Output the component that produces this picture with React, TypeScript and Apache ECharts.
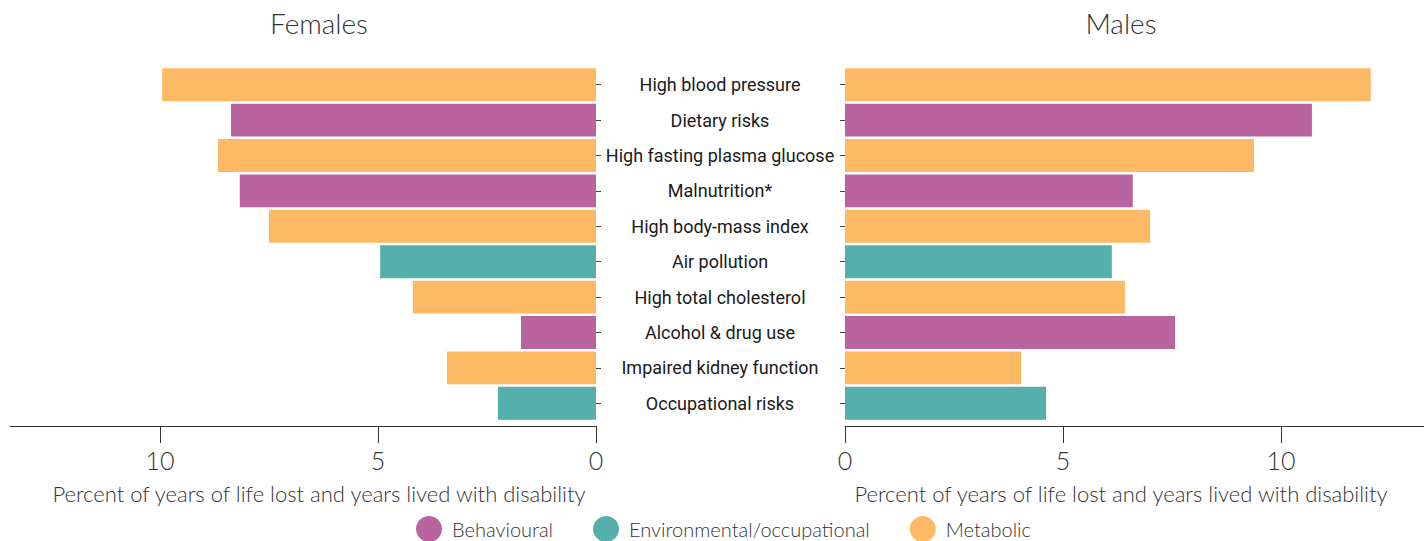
import React, { useEffect, useRef } from "react";
import * as echarts from "echarts";

const categories = [
  "High blood pressure",
  "Dietary risks",
  "High fasting plasma glucose",
  "Malnutrition*",
  "High body-mass index",
  "Air pollution",
  "High total cholesterol",
  "Alcohol & drug use",
  "Impaired kidney function",
  "Occupational risks",
];
const riskType = [
  "Metabolic",
  "Behavioural",
  "Metabolic",
  "Behavioural",
  "Metabolic",
  "Environmental/occupational",
  "Metabolic",
  "Behavioural",
  "Metabolic",
  "Environmental/occupational",
];
const femalesValues = [9.95, 8.37, 8.67, 8.17, 7.5, 4.95, 4.2, 1.72, 3.42, 2.25];
const malesValues = [12.06, 10.71, 9.38, 6.6, 7.0, 6.12, 6.42, 7.57, 4.04, 4.61];
const groups = ["Behavioural", "Environmental/occupational", "Metabolic"];
const groupColors = ["#B9649F", "#55AFAA", "#FDB963"];
const xTicks = [0, 5, 10];

const LABEL_FONT = "Roboto, 'Liberation Sans', sans-serif";
const LIGHT_FONT = "Lato, 'Open Sans', 'Noto Sans', sans-serif";

export default function App() {
  const ref = useRef<HTMLDivElement>(null);
  useEffect(() => {
    if (!ref.current) return;
    const chart = echarts.init(ref.current, undefined, { renderer: "svg" });
    const series: any[] = [];
    groups.forEach((g, gi) => {
      [femalesValues, malesValues].forEach((vals, idx) => {
        series.push({
          name: g,
          type: "bar",
          xAxisIndex: idx,
          yAxisIndex: idx,
          stack: idx === 0 ? "f" : "m",
          barCategoryGap: "7%",
          itemStyle: { color: groupColors[gi] },
          data: vals.map((v, i) => (riskType[i] === g ? v : "-")),
        });
      });
    });
    const xAxisCommon = (inverse: boolean, max: number, gi: number, namePad: number[]) => ({
      type: "value",
      gridIndex: gi,
      min: 0,
      max,
      inverse,
      offset: 5,
      splitLine: { show: false },
      axisLine: { show: true, lineStyle: { color: "#333", width: 1 } },
      axisTick: { show: true, length: 17, lineStyle: { color: "#333" }, customValues: xTicks },
      axisLabel: {
        customValues: xTicks,
        fontSize: 25,
        fontFamily: LIGHT_FONT,
        fontWeight: 300,
        color: "#333",
        margin: 21,
      },
      name: "Percent of years of life lost and years lived with disability",
      nameLocation: "middle",
      nameGap: 56,
      nameTextStyle: {
        fontSize: 22,
        fontFamily: LIGHT_FONT,
        fontWeight: 300,
        color: "#333",
        padding: namePad,
      },
    });
    chart.setOption({
      animation: false,
      title: [
        {
          text: "Females",
          left: 314,
          top: 4,
          textAlign: "center",
          textStyle: { fontSize: 28, fontWeight: 300, fontFamily: LIGHT_FONT, color: "#333" },
        },
        {
          text: "Males",
          left: 1116,
          top: 4,
          textAlign: "center",
          textStyle: { fontSize: 28, fontWeight: 300, fontFamily: LIGHT_FONT, color: "#333" },
        },
      ],
      legend: {
        data: groups,
        top: 511,
        left: 411,
        icon: "circle",
        itemWidth: 26,
        itemHeight: 26,
        itemGap: 40,
        textStyle: { fontSize: 20, fontFamily: LIGHT_FONT, fontWeight: 300, color: "#333", padding: [0, 0, 0, 5] },
      },
      grid: [
        { left: 10, width: 586, top: 67, height: 354 },
        { left: 845, width: 579, top: 67, height: 354 },
      ],
      xAxis: [
        xAxisCommon(true, 13.44, 0, [0, 0, 0, 32]),
        xAxisCommon(false, 13.28, 1, [0, 27, 0, 0]),
      ],
      yAxis: [
        {
          type: "category",
          gridIndex: 0,
          data: categories,
          inverse: true,
          position: "right",
          axisLine: { show: false },
          axisTick: { show: true, alignWithLabel: true, length: 5, lineStyle: { color: "#444" } },
          axisLabel: { show: false },
        },
        {
          type: "category",
          gridIndex: 1,
          data: categories,
          inverse: true,
          position: "left",
          axisLine: { show: false },
          axisTick: { show: true, alignWithLabel: true, length: 5, lineStyle: { color: "#444" } },
          axisLabel: {
            show: true,
            align: "center",
            margin: 125,
            fontSize: 18,
            fontWeight: 400,
            fontFamily: LABEL_FONT,
            color: "#1a1a1a",
          },
        },
      ],
      series,
    });
    return () => chart.dispose();
  }, []);
  return (
    <div
      ref={ref}
      style={{ position: "absolute", left: 0, top: 0, width: 1424, height: 541 }}
    />
  );
}
